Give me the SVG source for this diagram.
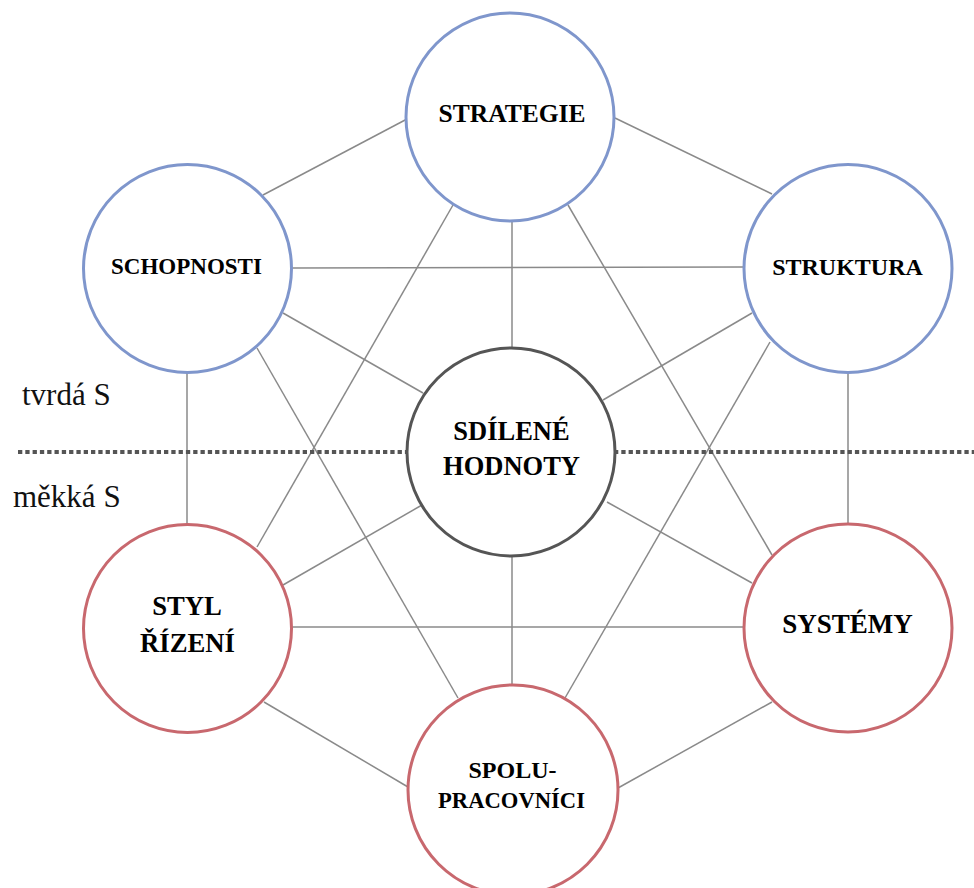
<svg xmlns="http://www.w3.org/2000/svg" width="974" height="888" viewBox="0 0 974 888">
<style>
.bg{fill:#ffffff}
.ln{stroke:#8a8a8a;stroke-width:1.5;fill:none}
.dot{stroke:#555555;stroke-width:4;stroke-dasharray:4.3 3;fill:none}
.hard{fill:#ffffff;stroke:#7f96cc;stroke-width:3}
.soft{fill:#ffffff;stroke:#c8686e;stroke-width:3}
.core{fill:#ffffff;stroke:#555555;stroke-width:3}
.t{font-family:"Liberation Serif","Times New Roman",serif;font-weight:bold;fill:#000;text-anchor:middle}
.lab{font-family:"Liberation Serif","Times New Roman",serif;fill:#111;font-size:31px}
</style>
<rect class="bg" x="0" y="0" width="974" height="888"/>
<g id="connectors">
<line class="ln" x1="407" y1="119" x2="263" y2="195"/>
<line class="ln" x1="615" y1="118" x2="772" y2="194"/>
<line class="ln" x1="292" y1="268" x2="744" y2="267"/>
<line class="ln" x1="187" y1="372" x2="187" y2="525"/>
<line class="ln" x1="848" y1="372" x2="848" y2="524"/>
<line class="ln" x1="292" y1="627" x2="744" y2="627"/>
<line class="ln" x1="264" y1="702" x2="408" y2="787"/>
<line class="ln" x1="772" y1="702" x2="618" y2="788"/>
<line class="ln" x1="453" y1="205" x2="257" y2="547"/>
<line class="ln" x1="568" y1="205" x2="772" y2="555"/>
<line class="ln" x1="512" y1="220" x2="512" y2="349"/>
<line class="ln" x1="283" y1="313" x2="423" y2="393"/>
<line class="ln" x1="257" y1="348" x2="458" y2="698"/>
<line class="ln" x1="752" y1="313" x2="603" y2="400"/>
<line class="ln" x1="770" y1="342" x2="565" y2="698"/>
<line class="ln" x1="422" y1="505" x2="283" y2="585"/>
<line class="ln" x1="607" y1="502" x2="752" y2="583"/>
<line class="ln" x1="512" y1="556" x2="512" y2="686"/>
</g>
<g id="divider">
<line class="dot" x1="18" y1="452" x2="408" y2="452"/>
<line class="dot" x1="614" y1="452" x2="974" y2="452"/>
<text class="lab" x="22" y="405">tvrdá S</text>
<text class="lab" x="13" y="507">měkká S</text>
</g>
<g id="strategie">
<circle class="hard" cx="510" cy="117" r="104"/>
<text class="t" x="512" y="122" font-size="25.5">STRATEGIE</text>
</g>
<g id="schopnosti">
<circle class="hard" cx="187.5" cy="268.5" r="104"/>
<text class="t" x="186.5" y="274" font-size="23">SCHOPNOSTI</text>
</g>
<g id="struktura">
<circle class="hard" cx="848" cy="268.5" r="104"/>
<text class="t" x="847.5" y="275" font-size="24">STRUKTURA</text>
</g>
<g id="sdilene-hodnoty">
<circle class="core" cx="511" cy="452" r="104"/>
<text class="t" x="511.5" y="440" font-size="26.5">SDÍLENÉ</text>
<text class="t" x="511.5" y="475" font-size="26.5">HODNOTY</text>
</g>
<g id="styl-rizeni">
<circle class="soft" cx="187.5" cy="628.5" r="104"/>
<text class="t" x="187" y="615" font-size="26.7">STYL</text>
<text class="t" x="187.5" y="652" font-size="26.7">ŘÍZENÍ</text>
</g>
<g id="systemy">
<circle class="soft" cx="848" cy="628" r="104"/>
<text class="t" x="847.5" y="633" font-size="27">SYSTÉMY</text>
</g>
<g id="spolupracovnici">
<circle class="soft" cx="513" cy="790" r="105"/>
<text class="t" x="512.5" y="778" font-size="24">SPOLU-</text>
<text class="t" x="511.5" y="808" font-size="22.6">PRACOVNÍCI</text>
</g>
</svg>
